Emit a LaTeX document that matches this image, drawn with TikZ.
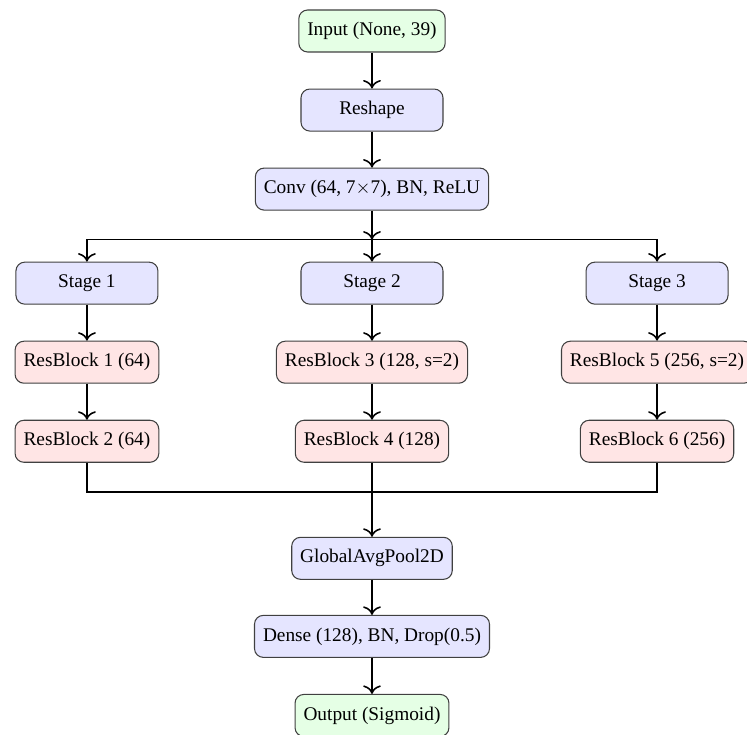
\documentclass[tikz,border=0pt]{standalone}
\usepackage{fontspec}
\setmainfont{Liberation Serif}
\usepackage{tikz}
\usetikzlibrary{arrows.meta,positioning,calc}

\begin{document}
\begin{tikzpicture}[
  font=\fontsize{11}{13}\selectfont,
  box/.style={draw=black!75,semithick,rounded corners=5pt,align=center,minimum height=8.4mm,
              minimum width=28.4mm,inner xsep=1.7mm},
  io/.style={box,fill=green!10},
  layer/.style={box,fill=blue!10},
  res/.style={box,fill=red!10},
  flow/.style={-{To[scale=1.35]},line width=0.9pt},
  mergeline/.style={line width=0.9pt},
]
\useasboundingbox (-74.4mm,6.2mm) rectangle (75mm,-140.8mm);

% stem
\node[io] (inp) at (0,0) {Input (None, 39)};
\node[layer,below=7.2mm of inp] (resh) {Reshape};
\node[layer,below=7.2mm of resh] (conv) {Conv (64, 7$\times$7), BN, ReLU};
\draw[flow] (inp) -- (resh);
\draw[flow] (resh) -- (conv);

% three stages
\node[layer,below=10.2mm of conv] (st2) {Stage 2};
\node[layer,left=28.4mm of st2] (st1) {Stage 1};
\node[layer,right=28.4mm of st2] (st3) {Stage 3};
\coordinate (split) at ($(conv.south)+(0,-5.8mm)$);
\draw[flow] (conv) -- (split);
\draw[flow] (split) -| (st1);
\draw[flow] (split) -- (st2);
\draw[flow] (split) -| (st3);

% residual blocks
\node[res,below=7.2mm of st1] (rb1) {ResBlock 1 (64)};
\node[res,below=7.2mm of rb1] (rb2) {ResBlock 2 (64)};
\node[res,below=7.2mm of st2] (rb3) {ResBlock 3 (128, s=2)};
\node[res,below=7.2mm of rb3] (rb4) {ResBlock 4 (128)};
\node[res,below=7.2mm of st3] (rb5) {ResBlock 5 (256, s=2)};
\node[res,below=7.2mm of rb5] (rb6) {ResBlock 6 (256)};
\draw[flow] (st1) -- (rb1);
\draw[flow] (rb1) -- (rb2);
\draw[flow] (st2) -- (rb3);
\draw[flow] (rb3) -- (rb4);
\draw[flow] (st3) -- (rb5);
\draw[flow] (rb5) -- (rb6);

% head
\node[layer,below=14.8mm of rb4] (gap) {GlobalAvgPool2D};
\node[layer,below=7.0mm of gap] (dense) {Dense (128), BN, Drop(0.5)};
\node[io,below=7.2mm of dense] (out) {Output (Sigmoid)};
\coordinate (merge) at ($(rb4.south)+(0,-5.8mm)$);
\draw[mergeline] (rb2) |- (merge) -| (rb6);
\draw[flow] (rb4) -- (gap);
\draw[flow] (gap) -- (dense);
\draw[flow] (dense) -- (out);
\end{tikzpicture}
\end{document}
